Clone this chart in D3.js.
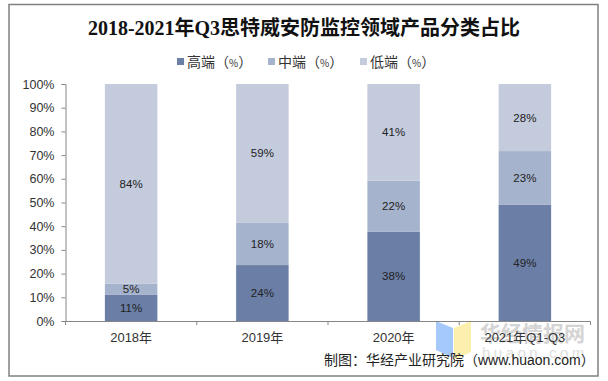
<!DOCTYPE html>
<html><head><meta charset="utf-8">
<script src="https://cdnjs.cloudflare.com/ajax/libs/d3/7.8.5/d3.min.js"></script>
<style>html,body{margin:0;padding:0;background:#fff}svg{display:block}</style></head>
<body><svg id="c" width="608" height="381"></svg>
<script>
const categories=["2018年","2019年","2020年","2021年Q1-Q3"];
const seriesNames=["高端","中端","低端"];
const high=[11.0,23.6,37.6,49.0];
const mid=[4.8,17.8,21.6,22.7];
const low=[84.2,58.6,40.8,28.3];
const colors=["#6a7ea6","#a6b3cd","#c3cbdd"];
const tickValues=[0,10,20,30,40,50,60,70,80,90,100];
const sans="'Liberation Sans','Noto Sans CJK SC',sans-serif";
const svg=d3.select("#c");
svg.append("rect").attr("x",9).attr("y",4.5).attr("width",589).attr("height",371.5).attr("fill","#fff").attr("stroke","#808080").attr("stroke-width",1.5);
svg.append("text").attr("x",304).attr("y",35).attr("text-anchor","middle").attr("font-family","'Liberation Serif','Noto Sans CJK SC',serif").attr("font-weight","bold").attr("font-size",20).attr("fill","#111").text("2018-2021年Q3思特威安防监控领域产品分类占比");
// watermark sits beneath the axis text
const wm=svg.append("g");
wm.append("polygon").attr("points","436,321 453,328 453,358 436,350").attr("fill","#a6c9fb");
wm.append("polygon").attr("points","471,321 454,328 454,360 471,352").attr("fill","#fdf0ae");
wm.append("text").attr("x",480).attr("y",341).attr("font-family","'Noto Sans CJK SC',sans-serif").attr("font-weight","bold").attr("font-size",21).attr("fill","#d4d4d4").text("华经情报网");
wm.append("text").attr("x",482).attr("y",358).attr("font-family",sans).attr("font-size",15).attr("letter-spacing",3.5).attr("fill","#dedede").text("huaon.com");
const x=d3.scaleBand().domain(categories).range([65.5,590.5]).paddingInner(0.6).paddingOuter(0.3);
const y=d3.scaleLinear().domain([0,100]).range([321,84]);
const rows=categories.map((c,i)=>({cat:c,high:high[i],mid:mid[i],low:low[i]}));
const stack=d3.stack().keys(["high","mid","low"])(rows);
const g=svg.append("g");
g.selectAll("g").data(stack).join("g").attr("fill",(d,i)=>colors[i]).selectAll("rect").data(d=>d).join("rect")
 .attr("x",d=>x(d.data.cat)).attr("width",x.bandwidth()).attr("y",d=>y(d[1])).attr("height",d=>y(d[0])-y(d[1]));
const lab=svg.append("g").attr("font-family",sans).attr("font-size",11.5).attr("fill","#222").attr("text-anchor","middle");
stack.forEach(s=>s.forEach(d=>{
 lab.append("text").attr("x",x(d.data.cat)+x.bandwidth()/2).attr("y",y((d[0]+d[1])/2)+4).text(Math.round(d[1]-d[0])+"%");
}));
const ax=d3.axisLeft(y).tickValues(tickValues).tickFormat(d=>d+"%").tickSize(4).tickPadding(7);
const ag=svg.append("g").attr("transform","translate(65.5,0)").call(ax);
ag.selectAll("text").attr("font-family",sans).attr("font-size",12.5).attr("fill","#333");
ag.selectAll("line,path").attr("stroke","#868686");
const xband=d3.scaleBand().domain(categories).range([65.5,590.5]);
const xg=svg.append("g").attr("transform","translate(0,321.5)").call(d3.axisBottom(xband).tickSize(0).tickPadding(11));
xg.selectAll("text").attr("font-family",sans).attr("font-size",13).attr("fill","#333");
xg.select("path").attr("stroke","#868686").attr("d","M65.5,0H590.5");
xg.selectAll(".tick line").remove();
svg.append("g").selectAll("line").data(d3.range(5)).join("line")
 .attr("x1",i=>65.5+xband.step()*i).attr("x2",i=>65.5+xband.step()*i).attr("y1",321.5).attr("y2",325).attr("stroke","#868686");
// legend
const legX=[177,268,360];
const leg=svg.append("g");
seriesNames.forEach((n,i)=>{
 leg.append("rect").attr("x",legX[i]).attr("y",58).attr("width",7).attr("height",7).attr("fill",colors[i]);
 const t=leg.append("text").attr("x",legX[i]+10).attr("y",67).attr("font-family","'Noto Sans CJK SC',sans-serif").attr("font-size",14).attr("fill","#333");
 t.append("tspan").text(n+"（");
 t.append("tspan").attr("font-size",10).text("%");
 t.append("tspan").text("）");
});
svg.append("text").attr("x",324).attr("y",365).attr("font-family",sans).attr("font-size",14).attr("fill","#222").text("制图：华经产业研究院（www.huaon.com）");
</script></body></html>
